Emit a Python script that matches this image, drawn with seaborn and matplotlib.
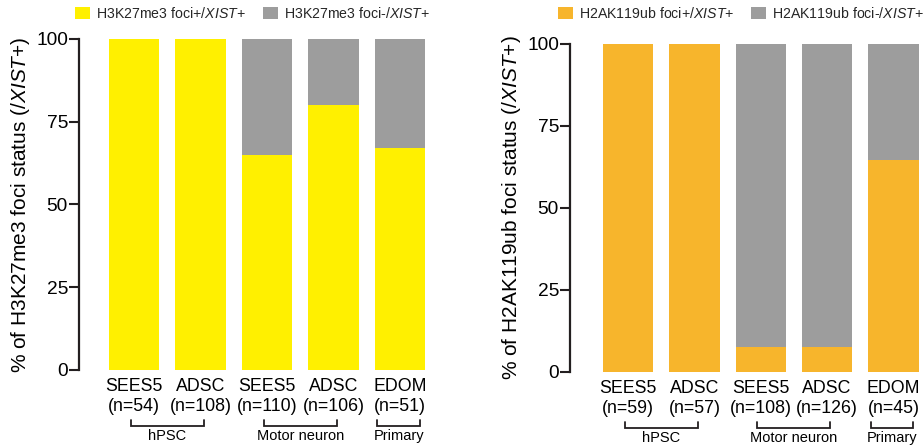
import matplotlib
matplotlib.use("Agg")
import matplotlib.pyplot as plt
import matplotlib.transforms as mtransforms
from matplotlib.patches import Patch
import seaborn as sns
import pandas as pd

# ---- data ----
cells = ["SEES5", "ADSC", "SEES5", "ADSC", "EDOM"]
n_left = [54, 108, 110, 106, 51]
n_right = [59, 57, 108, 126, 45]
h3k27_pos = [100, 100, 65, 80, 67]
h2ak119_pos = [100, 100, 7.5, 7.5, 64.5]
groups = ["hPSC", "Motor neuron", "Primary"]
group_members = [[0, 1], [2, 3], [4]]

YELLOW = "#FFF000"
ORANGE = "#F7B52C"
GRAY = "#9D9D9D"
DARK = "#231F20"

sns.set_theme(style="white")
plt.rcParams["font.family"] = ["Liberation Sans", "DejaVu Sans"]
plt.rcParams["mathtext.fontset"] = "custom"
plt.rcParams["mathtext.rm"] = "Liberation Sans"
plt.rcParams["mathtext.it"] = "Liberation Sans:italic"

fig = plt.figure(figsize=(9.23, 4.46), dpi=100)
axL = fig.add_axes([79 / 923, (446 - 370) / 446, 351 / 923, 331 / 446])
axR = fig.add_axes([570 / 923, (446 - 372) / 446, 350 / 923, 328 / 446])


def panel(ax, pos, ns, color, mark, legend_x, xlim, ax_h):
    labels = [f"{c}\n(n={n})" for c, n in zip(cells, ns)]
    df = pd.DataFrame({"label": labels, "total": [100] * len(labels), "pos": pos})
    sns.barplot(data=df, x="label", y="total", color=GRAY, width=0.76,
                saturation=1, ax=ax, order=labels)
    sns.barplot(data=df, x="label", y="pos", color=color, width=0.76,
                saturation=1, ax=ax, order=labels)
    for p in ax.patches:
        p.set_edgecolor("none")
    ax.set_ylim(0, 100)
    ax.set_xlim(*xlim)
    ax.set_yticks([0, 25, 50, 75, 100])
    for s in ["top", "right", "bottom"]:
        ax.spines[s].set_visible(False)
    ax.spines["left"].set_color(DARK)
    ax.spines["left"].set_linewidth(1.6)
    ax.tick_params(axis="y", left=True, length=7, width=1.5, color=DARK,
                   labelsize=13.8, pad=1, labelcolor="black")
    ax.tick_params(axis="x", length=0, labelsize=12.8, pad=6, labelcolor="black")
    for t in ax.get_xticklabels():
        t.set_linespacing(1.2)
    ax.set_xlabel("")
    ax.set_ylabel(f"% of {mark} foci status (/$\\mathit{{XIST}}$+)", fontsize=15,
                  labelpad=3, color="black")
    ax.grid(False)

    # group brackets
    trans = mtransforms.blended_transform_factory(ax.transData, ax.transAxes)
    y_top = -(420 - 370) / ax_h
    y_bot = -(426 - 370) / ax_h
    for name, mem in zip(groups, group_members):
        if len(mem) > 1:
            x0, x1 = mem[0] - 0.05, mem[-1] + 0.05
        else:
            x0, x1 = mem[0] - 0.34, mem[0] + 0.3
        ax.plot([x0, x0, x1, x1], [y_top, y_bot, y_bot, y_top], color=DARK,
                lw=1.3, transform=trans, clip_on=False, solid_joinstyle="miter")
        ax.text((x0 + x1) / 2, y_bot - 3 / ax_h, name, transform=trans, ha="center",
                va="top", fontsize=10.5, color="black")

    handles = [Patch(facecolor=color, edgecolor="none",
                     label=f"{mark} foci+/$\\mathit{{XIST}}$+"),
               Patch(facecolor=GRAY, edgecolor="none",
                     label=f"{mark} foci-/$\\mathit{{XIST}}$+")]
    fig.legend(handles=handles, loc="upper left",
               bbox_to_anchor=(legend_x / 923, 1 - 6 / 446), ncol=2,
               frameon=False, fontsize=10.2, handlelength=1.06, handleheight=1.0,
               handletextpad=0.42, columnspacing=1.2, borderpad=0,
               borderaxespad=0)


panel(axL, h3k27_pos, n_left, YELLOW, "H3K27me3", 75, (-0.83, 4.45), 331)
panel(axR, h2ak119_pos, n_right, ORANGE, "H2AK119ub", 558, (-0.875, 4.4), 328)

fig.savefig("out.png", dpi=100)
